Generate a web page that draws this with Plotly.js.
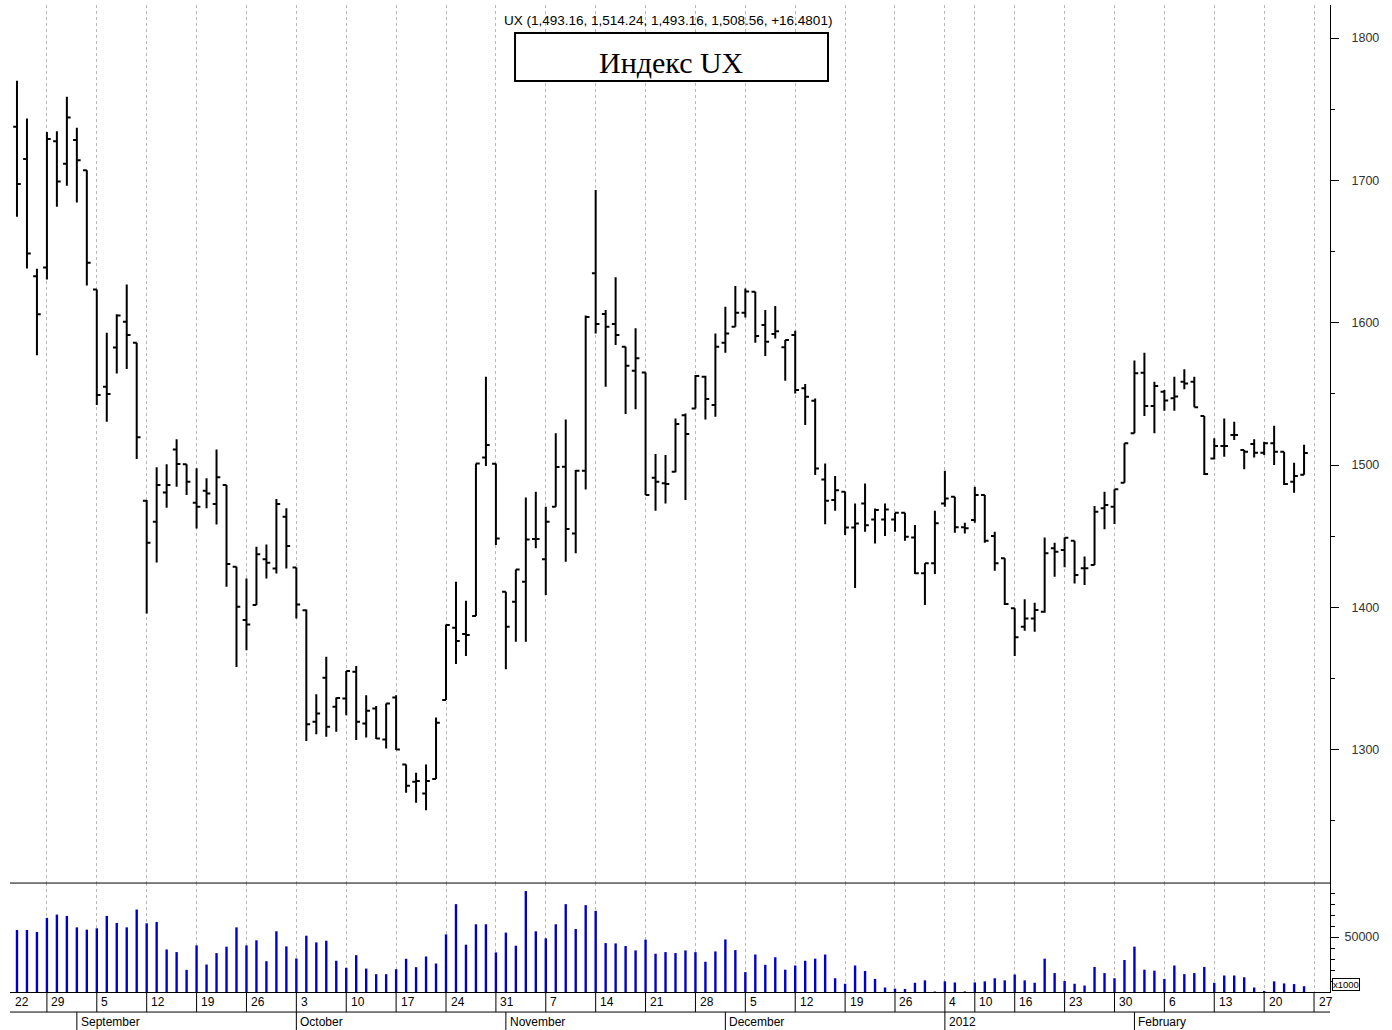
<!DOCTYPE html>
<html>
<head>
<meta charset="utf-8">
<script src="https://cdn.plot.ly/plotly-3.0.1.min.js"></script>
<style>html,body{margin:0;padding:0;background:#fff;}#chart{width:1392px;height:1030px;}</style>
</head>
<body>
<div id="chart"></div>
<script>
// Trading days
const dates = [
'2011-08-23','2011-08-25','2011-08-26','2011-08-29','2011-08-30','2011-08-31',
'2011-09-01','2011-09-02','2011-09-05','2011-09-06','2011-09-07','2011-09-08','2011-09-09','2011-09-12','2011-09-13','2011-09-14','2011-09-15','2011-09-16','2011-09-19','2011-09-20','2011-09-21','2011-09-22','2011-09-23','2011-09-26','2011-09-27','2011-09-28','2011-09-29','2011-09-30',
'2011-10-03','2011-10-04','2011-10-05','2011-10-06','2011-10-07','2011-10-10','2011-10-11','2011-10-12','2011-10-13','2011-10-14','2011-10-17','2011-10-18','2011-10-19','2011-10-20','2011-10-21','2011-10-24','2011-10-25','2011-10-26','2011-10-27','2011-10-28','2011-10-31',
'2011-11-01','2011-11-02','2011-11-03','2011-11-04','2011-11-07','2011-11-08','2011-11-09','2011-11-10','2011-11-11','2011-11-14','2011-11-15','2011-11-16','2011-11-17','2011-11-18','2011-11-21','2011-11-22','2011-11-23','2011-11-24','2011-11-25','2011-11-28','2011-11-29','2011-11-30',
'2011-12-01','2011-12-02','2011-12-05','2011-12-06','2011-12-07','2011-12-08','2011-12-09','2011-12-12','2011-12-13','2011-12-14','2011-12-15','2011-12-16','2011-12-19','2011-12-20','2011-12-21','2011-12-22','2011-12-23','2011-12-26','2011-12-27','2011-12-28','2011-12-29','2011-12-30',
'2012-01-04','2012-01-05','2012-01-06','2012-01-10','2012-01-11','2012-01-12','2012-01-13','2012-01-16','2012-01-17','2012-01-18','2012-01-19','2012-01-20','2012-01-23','2012-01-24','2012-01-25','2012-01-26','2012-01-27','2012-01-30','2012-01-31',
'2012-02-01','2012-02-02','2012-02-03','2012-02-06','2012-02-07','2012-02-08','2012-02-09','2012-02-10','2012-02-13','2012-02-14','2012-02-15','2012-02-16','2012-02-17','2012-02-20','2012-02-21','2012-02-22','2012-02-23','2012-02-24'
];

const openP = [
1737.7,1715,1632.7,1638.8,1727.4,1711.7,
1728.3,1707.2,1623.4,1555,1582.6,1600.7,1586,1475,1460.2,1480.8,1511,1500.5,1473.6,1482,1472.6,1486,1428.6,1391.1,1401.7,1433.8,1427.4,1463.7,
1428.1,1398.1,1319.7,1350.6,1330.2,1336,1354.8,1318.5,1329,1307.3,1336.8,1289.7,1277.5,1269.3,1279.4,1334.9,1385.8,1381.3,1394,1505.4,1501,
1411,1404,1418.1,1448,1433.8,1470.8,1498.9,1452,1496,1634.7,1606.1,1599.1,1583.2,1566.3,1565,1491.1,1487.2,1495.3,1535,1539.8,1562,1542.2,
1585.9,1597.2,1607,1621.8,1598.4,1592,1582.7,1591.3,1553.9,1545.2,1489.9,1475.4,1481.3,1456.2,1473.1,1461.8,1461.8,1461.8,1466.5,1449.2,1424,1431,
1473.1,1477.8,1456.3,1461.4,1479,1450.2,1434.5,1399.4,1386.5,1392.3,1397,1441.5,1440.3,1446.9,1427.5,1429.8,1469.6,1470.8,1487.6,
1522.3,1564.9,1541.5,1551.6,1547,1558.6,1558.6,1534.5,1504.7,1513.4,1521.1,1510.6,1514.8,1508.7,1515.3,1509.4,1488.3,1493.16
];
const highP = [
1770,1743.5,1638,1734,1734.6,1758.7,
1737,1707.2,1623.4,1592.9,1606,1626.9,1586,1475.4,1498.4,1500.5,1518.1,1500.5,1497.7,1490.7,1511,1486,1428.6,1420.4,1442.6,1444.3,1476.1,1469.6,
1428.1,1398.6,1339.1,1365.3,1336.8,1355.3,1358.8,1338.4,1330.7,1332.5,1338.4,1289.7,1283.8,1289.7,1322.7,1388.1,1418.1,1404.7,1501.2,1562.1,1501.2,
1411,1426.7,1477.3,1481.3,1470.8,1522.3,1532.1,1496.5,1605,1693.2,1609,1631.9,1583.2,1596.1,1565,1507.8,1507.1,1532.8,1536.3,1563.3,1562.8,1592.5,
1611.2,1625.8,1624.1,1621.8,1608.9,1611.7,1587.8,1594.4,1556.9,1546.8,1501.2,1492.3,1481.3,1473.1,1487.1,1469.5,1473.1,1466.5,1466.5,1457.9,1431,1468,
1496.1,1477.8,1459.5,1484.8,1479,1453.2,1434.5,1399.4,1405.7,1403.3,1449.2,1445.5,1449.2,1446.9,1435.7,1471.2,1481.3,1483,1515.3,
1573.4,1579,1558.6,1552.7,1562.1,1567.3,1562.1,1534.5,1518.8,1532.8,1530.5,1510.6,1518.1,1516.4,1527.7,1509.4,1501.7,1514.24
];
const lowP = [
1674.4,1638.1,1577.2,1630.4,1681.5,1696.2,
1684.5,1626.2,1542.2,1530.5,1564.4,1567.5,1504.2,1395.8,1431.6,1470,1484.8,1479,1455.5,1469.6,1458.3,1414.5,1358.1,1370,1401.7,1420.4,1423.9,1427.4,
1392.3,1306.1,1311,1309.1,1312.6,1324.3,1306.8,1308.7,1307.5,1300.9,1299.8,1269.8,1262.8,1257.6,1279.4,1334.9,1360.2,1365.8,1394,1499.3,1443.8,
1356.5,1375.9,1375.9,1441.5,1408.7,1470.8,1432.1,1438,1482.9,1592.5,1555.1,1584.3,1535.9,1539.2,1478.9,1467.9,1473.1,1494.9,1475.4,1539.8,1532.1,1534,
1578.9,1597.2,1603.7,1586,1576.6,1589,1559.2,1550.3,1528.1,1493,1458.5,1467.9,1450.8,1413.6,1453.2,1445,1450.1,1453.2,1446.8,1423.5,1401.7,1423.5,
1470.8,1452.5,1452,1459.5,1445.5,1425.8,1401.7,1365.9,1383.7,1383,1396.3,1421.6,1428.2,1416.9,1415.7,1429.8,1454.9,1458.6,1487.6,
1522.3,1534.5,1522.3,1538.2,1538.2,1553.2,1540.6,1493,1504,1505.9,1517.6,1497,1505.4,1507.1,1500,1486,1480.6,1493.16
];
const closeP = [
1697.4,1648.7,1606,1729,1699.3,1744.2,
1714.2,1642.1,1549.2,1549.9,1605,1591.3,1519.5,1445.5,1486,1486,1500.7,1488.3,1470.8,1480.1,1491.4,1430.5,1400.5,1388.1,1437.3,1431.4,1472.6,1443.1,
1402.1,1318,1325.5,1316.2,1336.3,1355.3,1319.7,1327.4,1308,1332.5,1300.2,1274.7,1278,1278,1319,1387.6,1376.4,1380.6,1501.2,1514.1,1448.5,
1386.5,1426.7,1447.8,1448,1460.2,1498.6,1455.1,1496,1604,1599.1,1597.2,1591.4,1569.8,1575,1479,1488.3,1486.7,1528.8,1521.8,1562.6,1546.4,1583.2,
1592.5,1607,1622,1590.6,1586.6,1594,1587.8,1552.7,1548,1497.6,1474.9,1482.4,1456.2,1459,1457.8,1468.4,1468.8,1466.5,1449.6,1424,1431,1459.1,
1476.6,1456.3,1455.6,1479,1446.9,1431,1402.4,1379,1392.3,1398.2,1438,1439.2,1449,1422.8,1427.5,1467.3,1472,1483,1515.3,
1564.5,1541.5,1555.6,1545.3,1548.1,1557.4,1540.6,1493.7,1513.4,1513.4,1521.1,1509.4,1508.7,1515.3,1509.4,1486.7,1492.3,1508.56
];
const volume = [
56400,56400,54600,67400,70400,69200,
58800,56700,57900,69200,62800,58800,75000,62500,63700,38700,36300,20100,42400,25000,35400,41200,58800,42400,47000,28000,55200,41500,
30500,51200,45100,46600,28400,22000,33500,21300,16200,16200,20700,30200,22600,32300,25900,52400,79900,43000,61600,61600,36000,
54000,42100,91800,55200,48800,61600,79900,57300,79000,73800,44500,44200,41800,37800,47600,34800,36300,35400,37800,36250,27500,36900,
47800,38100,18100,34100,24700,31600,20300,24100,28400,30300,34100,12500,7500,24100,19100,11900,4100,3100,2800,8400,10600,500,
9700,8700,600,8700,9700,12500,10600,15900,10600,8400,30300,17200,10000,7500,5900,22800,17200,12500,29100,
41250,20300,19400,11900,24100,16250,17200,22800,8400,15000,15000,13400,4100,1000,9700,7800,7200,5300
];

// Axis labels
const weekStarts = ['2011-08-22','2011-08-29','2011-09-05','2011-09-12','2011-09-19','2011-09-26','2011-10-03','2011-10-10','2011-10-17','2011-10-24','2011-10-31','2011-11-07','2011-11-14','2011-11-21','2011-11-28','2011-12-05','2011-12-12','2011-12-19','2011-12-26','2012-01-04','2012-01-10','2012-01-16','2012-01-23','2012-01-30','2012-02-06','2012-02-13','2012-02-20','2012-02-27'];
const weekLabels = ['22','29','5','12','19','26','3','10','17','24','31','7','14','21','28','5','12','19','26','4','10','16','23','30','6','13','20','27'];
const monthStarts = ['2011-09-01','2011-10-03','2011-11-01','2011-12-01','2012-01-04','2012-02-01'];
const monthLabels = ['September','October','November','December','2012','February'];
const priceTicks = [1300,1400,1500,1600,1700,1800];
const priceMinor = [1250,1350,1450,1550,1650,1750];
const volTicks = [50000];
const volTickText = ['50000'];
const volMinor = [10000,20000,30000,40000,60000,70000,80000,90000];
const headerText = 'UX (1,493.16, 1,514.24, 1,493.16, 1,508.56, +16.4801)';
const boxTitle = 'Индекс UX';

const xIdx = dates.map((d, i) => i);
function pos(d) {
  const i = dates.indexOf(d);
  if (i >= 0) return i;
  if (d < dates[0]) return -1;
  return dates.length;
}
const XMIN = -0.7, XMAX = 131.6;
const weekPos = weekStarts.map(pos);
const monthPos = monthStarts.map(pos);

const Y_SPLIT = 0.1104;     // price/volume split (paper)
const Y_ROW1 = -0.0203;     // line between day row and month row
const Y_ROW2 = -0.0385;
const axisFont = {family: 'Liberation Sans, Arial, sans-serif', size: 12, color: '#000'};

const traces = [
  {
    type: 'ohlc', x: xIdx, open: openP, high: highP, low: lowP, close: closeP,
    xaxis: 'x', yaxis: 'y', tickwidth: 0.38,
    increasing: {line: {color: '#000', width: 2}},
    decreasing: {line: {color: '#000', width: 2}},
    hoverinfo: 'skip', showlegend: false
  },
  {
    type: 'bar', x: xIdx, y: volume, xaxis: 'x', yaxis: 'y2', width: 0.24,
    marker: {color: '#0000cc', line: {width: 0}}, hoverinfo: 'skip', showlegend: false
  }
];

const shapes = [
  {type: 'line', xref: 'paper', yref: 'paper', x0: 0, x1: 1, y0: Y_SPLIT, y1: Y_SPLIT, line: {color: '#000', width: 1}},
  {type: 'line', xref: 'paper', yref: 'paper', x0: 0, x1: 1, y0: Y_ROW1, y1: Y_ROW1, line: {color: '#000', width: 1}},
  {type: 'rect', xref: 'paper', yref: 'paper', x0: 0.3826, x1: 0.6197, y0: 0.9230, y1: 0.9716,
   fillcolor: '#fff', line: {color: '#000', width: 2}, layer: 'above'}
];
weekPos.forEach(p => {
  if (p > XMIN && p < XMAX) shapes.push({type: 'line', xref: 'x', yref: 'paper', x0: p, x1: p, y0: 0, y1: Y_ROW1, line: {color: '#000', width: 1}});
});
monthPos.forEach(p => {
  shapes.push({type: 'line', xref: 'x', yref: 'paper', x0: p, x1: p, y0: Y_ROW1, y1: Y_ROW2, line: {color: '#000', width: 1}});
});

const annotations = [];
weekPos.forEach((p, i) => {
  annotations.push({xref: 'x', yref: 'paper', x: Math.max(p, XMIN + 0.05) + 0.25, y: -0.0101, xanchor: 'left', yanchor: 'middle',
    text: weekLabels[i], showarrow: false, font: axisFont});
});
monthPos.forEach((p, i) => {
  annotations.push({xref: 'x', yref: 'paper', x: p + 0.2, y: -0.0308, xanchor: 'left', yanchor: 'middle',
    text: monthLabels[i], showarrow: false, font: axisFont});
});
annotations.push({xref: 'paper', yref: 'paper', x: 0.4985, y: 0.9838, xanchor: 'center', yanchor: 'middle',
  text: headerText, showarrow: false, font: {family: 'Liberation Sans, Arial, sans-serif', size: 13.5, color: '#000'}});
annotations.push({xref: 'paper', yref: 'paper', x: 0.5011, y: 0.9420, xanchor: 'center', yanchor: 'middle',
  text: boxTitle, showarrow: false,
  font: {family: 'Liberation Serif, Times New Roman, serif', size: 30, color: '#000'}});
annotations.push({xref: 'paper', yref: 'paper', x: 1.0017, y: 0.0081, xanchor: 'left', yanchor: 'middle',
  text: 'x1000', showarrow: false, bgcolor: '#fff', bordercolor: '#000', borderwidth: 1, borderpad: 0,
  font: {family: 'Liberation Sans, Arial, sans-serif', size: 9.5, color: '#000'}});

const layout = {
  width: 1392, height: 1030,
  margin: {l: 10, r: 62, t: 5, b: 38, pad: 0},
  paper_bgcolor: '#fff', plot_bgcolor: '#fff',
  showlegend: false,
  xaxis: {
    type: 'linear', range: [XMIN, XMAX], anchor: 'y2',
    tickmode: 'array', tickvals: weekPos, showticklabels: false, ticks: '',
    showgrid: true, gridcolor: '#b8b8b8', gridwidth: 1, griddash: 'dot',
    showline: true, linecolor: '#000', linewidth: 1, zeroline: false,
    rangeslider: {visible: false}, fixedrange: true
  },
  yaxis: {
    domain: [Y_SPLIT, 1], range: [1206.4, 1823.2], side: 'right', anchor: 'x',
    tickmode: 'array', tickvals: priceTicks, ticks: 'outside', ticklen: 8, tickcolor: '#000', tickwidth: 1,
    ticklabelstandoff: 10,
    minor: {tickmode: 'array', tickvals: priceMinor, ticks: 'outside', ticklen: 4, tickcolor: '#000'},
    showline: true, linecolor: '#000', linewidth: 1, showgrid: false, zeroline: false,
    tickfont: {family: 'Liberation Sans, Arial, sans-serif', size: 12.5, color: '#333'}, fixedrange: true
  },
  yaxis2: {
    domain: [0, Y_SPLIT], range: [0, 99090], side: 'right', anchor: 'x',
    tickmode: 'array', tickvals: volTicks, ticktext: volTickText, ticks: 'outside', ticklen: 8, tickcolor: '#000',
    ticklabelstandoff: 3,
    minor: {tickmode: 'array', tickvals: volMinor, ticks: 'outside', ticklen: 4, tickcolor: '#000'},
    showline: true, linecolor: '#000', linewidth: 1, showgrid: false, zeroline: false,
    tickfont: {family: 'Liberation Sans, Arial, sans-serif', size: 12.5, color: '#333'}, fixedrange: true
  },
  shapes: shapes,
  annotations: annotations
};

Plotly.newPlot('chart', traces, layout, {staticPlot: true, displayModeBar: false});
</script>
</body>
</html>
